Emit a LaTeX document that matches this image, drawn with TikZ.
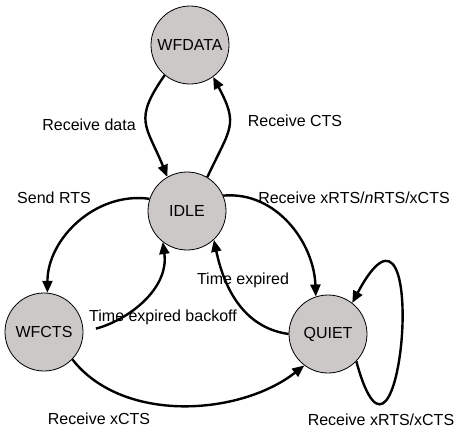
\documentclass[tikz,border=0pt]{standalone}
\usepackage{fontspec}
\setmainfont{Liberation Sans}
\usetikzlibrary{arrows.meta}
\definecolor{stfill}{RGB}{204,200,200}
\begin{document}
\begin{tikzpicture}[x=1pt,y=-1pt,
  state/.style={circle,draw=black,line width=0.8pt,fill=stfill,minimum size=78pt,inner sep=0pt,font=\fontsize{16}{18}\selectfont},
  lbl/.style={font=\fontsize{16}{18}\selectfont,inner sep=0pt},
  trans/.style={line width=2.4pt,-{Triangle[length=12pt,width=10pt]}}]
\useasboundingbox (0,0) rectangle (459,432);
\node[state] (wfdata) at (190,45) {WFDATA};
\node[state] (idle) at (187,211) {IDLE};
\node[state] (wfcts) at (44,332) {WFCTS};
\node[state] (quiet) at (328,334) {QUIET};

\draw[trans] (wfdata.230) to[out=235,in=112,looseness=1.4] (idle.120);
\draw[trans] (idle.59) to[out=65,in=-62,looseness=1.4] (wfdata.306);
\draw[trans] (idle.162) to[out=172,in=90,looseness=1.0] (wfcts.85);
\draw[trans,shorten <=13pt] (wfcts.0) to[out=15,in=-82,looseness=1.0] (idle.232);
\draw[trans] (idle.23) to[out=5,in=92,looseness=1.0] (quiet.108);
\draw[trans] (quiet.180) to[out=172,in=-78,looseness=1.0] (idle.313);
\draw[trans] (wfcts.316) to[out=-52,in=218,looseness=0.9] (quiet.233);
\draw[trans] (quiet.-44) .. controls +(45,165) and +(80,-150) .. (quiet.52);

\node[lbl] (l1) at (89,125) {Receive data};
\node[lbl] (l2) at (295,121) {Receive CTS};
\node[lbl] (l3) at (54,198) {Send RTS};
\node[lbl] (l4) at (354,198) {Receive xRTS/\textit{n}RTS/xCTS};
\node[lbl] (l5) at (243,280) {Time expired};
\node[lbl] (l6) at (163,317) {Time expired backoff};
\node[lbl] (l7) at (99,419) {Receive xCTS};
\node[lbl] (l8) at (381,420) {Receive xRTS/xCTS};
\end{tikzpicture}
\end{document}
